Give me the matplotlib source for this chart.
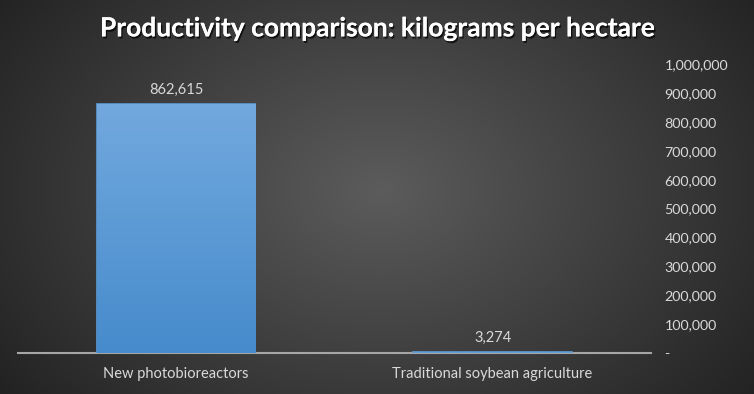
import numpy as np
import matplotlib
matplotlib.use("Agg")
import matplotlib.pyplot as plt
import matplotlib.patheffects as pe
from matplotlib.ticker import FuncFormatter

categories = ["New photobioreactors", "Traditional soybean agriculture"]
values = [862615, 3274]
yticks = [0, 100000, 200000, 300000, 400000, 500000, 600000, 700000, 800000, 900000, 1000000]

plt.rcParams['font.family'] = ['Lato', 'DejaVu Sans']
txt = '#d9d9d9'

fig = plt.figure(figsize=(7.54, 3.94), dpi=100)

# radial gradient background
bg = fig.add_axes([0, 0, 1, 1])
yy, xx = np.mgrid[0:394, 0:754]
r = np.sqrt(((xx - 380) / 420.0) ** 2 + ((yy - 190) / 300.0) ** 2)
shade = np.clip(0.36 - 0.2 * r, 0.13, 0.36)
bg.imshow(np.dstack([shade] * 3), aspect='auto', extent=[0, 1, 0, 1])
bg.axis('off')

ax = fig.add_axes([0.024, 0.104, 0.839, 0.733])
ax.patch.set_alpha(0)
x = np.arange(len(categories))
bars = ax.bar(x, values, width=0.5, color='#5b9bd5', edgecolor='#5b9bd5',
              linewidth=1.2, zorder=2)

# vertical gradient on bars
grad = np.linspace(0, 1, 256).reshape(-1, 1)
cmap = matplotlib.colors.LinearSegmentedColormap.from_list('b', ['#468bcc', '#72a9de'])
for b in bars:
    bx, by, bw, bh = b.get_x(), b.get_y(), b.get_width(), b.get_height()
    im = ax.imshow(grad, cmap=cmap, aspect='auto', origin='lower',
                   extent=[bx, bx + bw, by, by + max(bh, 1)], zorder=3)
    im.set_clip_path(b)
    ax.text(b.get_x() + bw / 2, bh + 25000, f"{bh:,.0f}", ha='center', va='bottom',
            color=txt, fontsize=10.5)

ax.set_xlim(-0.5, 1.5)
ax.set_ylim(0, 1000000)
ax.set_yticks(yticks)
ax.yaxis.tick_right()
ax.yaxis.set_major_formatter(FuncFormatter(lambda v, p: '-' if v == 0 else f"{v:,.0f}"))
ax.set_xticks(x)
ax.set_xticklabels(categories)
ax.tick_params(axis='y', length=0, pad=10, colors=txt, labelsize=10.3)
ax.tick_params(axis='x', length=0, pad=10, colors=txt, labelsize=10.5)
for lab in ax.get_yticklabels():
    lab.set_horizontalalignment('left')
for s in ['top', 'left', 'right']:
    ax.spines[s].set_visible(False)
ax.spines['bottom'].set_color('#a6a6a6')
ax.spines['bottom'].set_linewidth(1.5)
ax.spines['bottom'].set_zorder(1)

fig.text(0.5, 0.928, "Productivity comparison: kilograms per hectare", ha='center', va='center',
         color='white', fontsize=19, fontweight='bold',
         path_effects=[pe.withSimplePatchShadow(offset=(1, -1.5), shadow_rgbFace='black', alpha=0.7),
                       pe.Normal()])

fig.savefig('out.png', dpi=100)
